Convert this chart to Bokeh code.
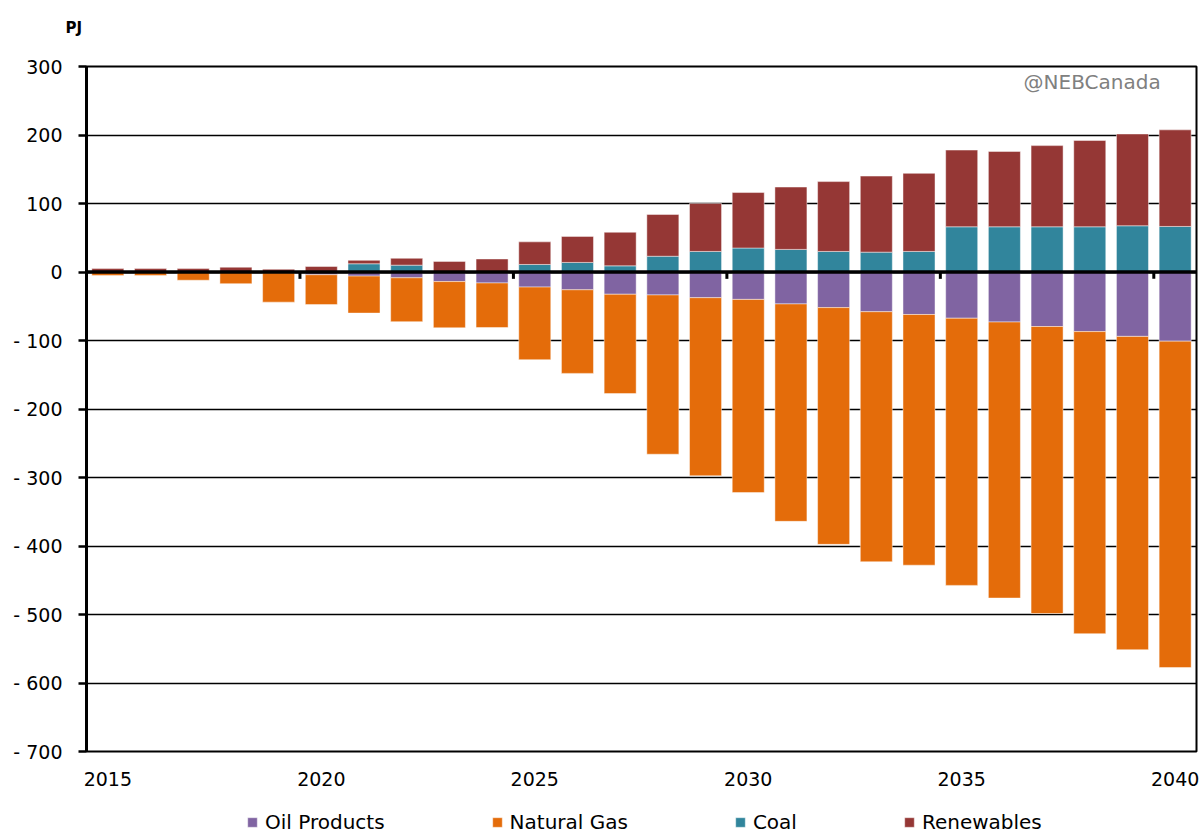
from bokeh.plotting import figure
from bokeh.layouts import column
from bokeh.models import ColumnDataSource, FixedTicker, Span, Label, Legend, LegendItem
from bokeh.embed import file_html
from bokeh.resources import INLINE

# ---- data (PJ) ----
years = list(range(2015, 2041))
oil_products = [0, 0, 0, 0, -1, -4, -6, -8.5, -14, -16, -22, -26, -32.5, -33.5, -37.5,
                -40, -46.6, -52, -58, -62, -67.5, -73, -79.6, -87, -94, -101]
natural_gas = [-5, -5, -12, -17, -43, -43.6, -54, -64, -67.5, -65, -106, -122, -145, -232.5, -260,
               -282, -317.4, -345.6, -365, -366, -390, -403, -419, -441, -457.4, -476.4]
coal = [0, 0, 0, 0, 0, 0, 12, 10, 0, 0, 11, 14, 9, 23, 30,
        35, 33, 30, 29, 30, 66, 66, 66, 66, 67.5, 66.5]
renewables = [5, 5, 5, 7, 4, 8, 5, 10, 15.5, 19, 33, 38, 49, 61, 70,
              81, 91, 102, 111, 114, 112, 110, 118.5, 126, 134, 141]

series_names = ["Oil Products", "Natural Gas", "Coal", "Renewables"]
series_colors = ["#8064A2", "#E46C0A", "#31859C", "#953735"]

y_ticks = [300, 200, 100, 0, -100, -200, -300, -400, -500, -600, -700]
y_tick_labels = ["300", "200", "100", "0", "- 100", "- 200", "- 300", "- 400", "- 500", "- 600", "- 700"]
x_ticks = [2015, 2020, 2025, 2030, 2035, 2040]
x_tick_labels = ["2015", "2020", "2025", "2030", "2035", "2040"]

FONT = "DejaVu Sans"

src = ColumnDataSource(dict(year=years, oil=oil_products, gas=natural_gas,
                            coal=coal, renew=renewables))

p = figure(width=1200, height=800, x_range=(2014.5, 2040.5), y_range=(-700, 300),
           output_backend="svg", toolbar_location=None,
           min_border_left=86, min_border_right=4, min_border_top=66, min_border_bottom=49)
p.background_fill_color = "white"
p.border_fill_color = "white"

# "PJ" unit label as the title (blank second line lifts it towards the top edge)
p.title.text = "PJ\n "
p.title.text_font = FONT
p.title.text_font_size = "15px"
p.title.text_font_style = "bold"
p.title.text_color = "black"
p.title.align = "left"
p.title.vertical_align = "top"
p.title.offset = -21
p.title.standoff = 20

neg = p.vbar_stack(["oil", "gas"], x="year", width=0.75, source=src,
                   fill_color=series_colors[0:2], line_color="white", line_alpha=0.45, line_width=1)
pos = p.vbar_stack(["coal", "renew"], x="year", width=0.75, source=src,
                   fill_color=series_colors[2:4], line_color="white", line_alpha=0.45, line_width=1)

# zero axis line with category-group tick marks
p.add_layout(Span(location=0, dimension="width", line_color="black", line_width=3.5))
tick_x = [y + 0.5 for y in years if (y - 2015) % 5 == 4]
p.segment(x0=tick_x, y0=[0] * len(tick_x), x1=tick_x, y1=[-10] * len(tick_x),
          line_color="black", line_width=3)

# grid / outline
p.xgrid.visible = False
p.ygrid.ticker = FixedTicker(ticks=y_ticks)
p.ygrid.grid_line_color = "black"
p.ygrid.grid_line_width = 1.6
p.outline_line_color = "black"
p.outline_line_width = 2
p.outline_line_alpha = 1

# y axis
ya = p.yaxis[0]
ya.ticker = FixedTicker(ticks=y_ticks)
ya.major_label_overrides = {t: l for t, l in zip(y_ticks, y_tick_labels)}
ya.axis_line_color = "black"
ya.axis_line_width = 3
ya.major_tick_line_color = "black"
ya.major_tick_line_width = 2.5
ya.major_tick_out = 8
ya.major_tick_in = 0
ya.minor_tick_line_color = None
ya.major_label_text_font = FONT
ya.major_label_text_font_size = "19px"
ya.major_label_text_color = "black"
ya.major_label_standoff = 16

# x axis
xa = p.xaxis[0]
xa.ticker = FixedTicker(ticks=x_ticks)
xa.major_label_overrides = {t: l for t, l in zip(x_ticks, x_tick_labels)}
xa.axis_line_color = None
xa.major_tick_line_color = None
xa.minor_tick_line_color = None
xa.major_label_text_font = FONT
xa.major_label_text_font_size = "19px"
xa.major_label_text_color = "black"
xa.major_label_standoff = 14

# watermark
p.add_layout(Label(x=2039.66, y=277, text="@NEBCanada", text_align="right", text_baseline="middle",
                   text_font=FONT, text_font_size="20px", text_color="#808080"))

# legend in a strip below the chart (its own small figure with zero-height proxy bars)
lg = figure(width=1200, height=35, x_range=(0, 1), y_range=(0, 1),
            output_backend="svg", toolbar_location=None,
            min_border_left=0, min_border_right=0, min_border_top=0, min_border_bottom=0)
lg.axis.visible = False
lg.grid.visible = False
lg.outline_line_color = None
lg.border_fill_color = "white"
proxy = ColumnDataSource(dict(x=[0.5], top=[0]))
lg_renderers = [lg.vbar(x="x", top="top", width=0.0, source=proxy, fill_color=c,
                        line_color="white", line_alpha=0.45) for c in series_colors]
items = [LegendItem(label=n, renderers=[r]) for n, r in zip(series_names, lg_renderers)]
legend = Legend(items=items, orientation="horizontal", location=(160, 1),
                spacing=106, glyph_width=12, glyph_height=12, label_standoff=7,
                label_text_font=FONT, label_text_font_size="20px", label_text_color="black",
                padding=0, margin=0, border_line_color=None, background_fill_alpha=0)
lg.add_layout(legend)

layout = column(p, lg, spacing=0)
open("out.html", "w").write(file_html(layout, INLINE))
